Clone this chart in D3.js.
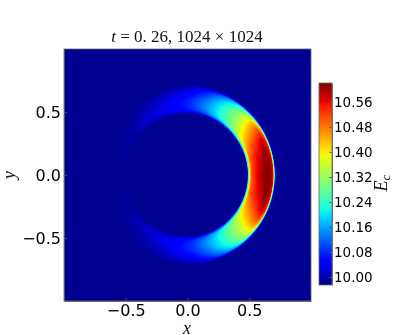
<!DOCTYPE html>
<html>
<head>
<meta charset="utf-8">
<script src="https://d3js.org/d3.v7.min.js"></script>
<style>
body { margin:0; background:#fff; }
#wrap { position:relative; width:399px; height:335px; overflow:hidden; }
canvas, svg { position:absolute; left:0; top:0; }
.axis path, .axis line { stroke:#555; stroke-width:0.8; }
.axis text { font-family:"DejaVu Sans"; fill:#000; }
.math { font-family:"Liberation Serif"; fill:#111; }
</style>
</head>
<body>
<div id="wrap"><canvas id="heat" width="399" height="335"></canvas><svg id="chart" width="399" height="335"></svg></div>
<script>
var xTicks = [-0.5, 0, 0.5]
var yTicks = [-0.5, 0, 0.5]
var barTicks = [10.00, 10.08, 10.16, 10.24, 10.32, 10.40, 10.48, 10.56]
var barDomain = [9.975, 10.62]
var background = 9.985

// polar stations around the origin (lower half mirrors upper)
var radii = [0.484, 0.492, 0.505, 0.52, 0.55, 0.58, 0.61, 0.64, 0.67, 0.692, 0.702, 0.71, 0.72]
var angles = [0, 15, 25, 35, 45, 55, 65, 75, 85, 95, 110, 125, 140, 160, 180]
var e0   = [9.985, 10.22, 10.42, 10.51, 10.55, 10.58, 10.60, 10.62, 10.62, 10.58, 10.30, 10.03, 9.985]
var e15  = [9.985, 10.20, 10.40, 10.49, 10.53, 10.56, 10.58, 10.61, 10.61, 10.56, 10.28, 10.03, 9.985]
var e25  = [9.985, 10.18, 10.36, 10.44, 10.48, 10.51, 10.53, 10.56, 10.58, 10.52, 10.24, 10.02, 9.985]
var e35  = [9.985, 10.15, 10.31, 10.38, 10.41, 10.43, 10.45, 10.47, 10.48, 10.41, 10.18, 10.02, 9.985]
var e45  = [9.985, 10.12, 10.25, 10.30, 10.33, 10.34, 10.35, 10.35, 10.34, 10.28, 10.13, 10.01, 9.985]
var e55  = [9.985, 10.08, 10.19, 10.24, 10.26, 10.27, 10.27, 10.26, 10.23, 10.18, 10.09, 10.00, 9.985]
var e65  = [9.985, 10.05, 10.14, 10.18, 10.20, 10.20, 10.20, 10.18, 10.15, 10.10, 10.05, 10.00, 9.985]
var e75  = [9.985, 10.03, 10.09, 10.12, 10.14, 10.14, 10.13, 10.11, 10.08, 10.05, 10.02, 9.99, 9.985]
var e85  = [9.985, 10.01, 10.06, 10.08, 10.09, 10.09, 10.08, 10.06, 10.04, 10.02, 10.00, 9.99, 9.985]
var e95  = [9.985, 10.00, 10.04, 10.05, 10.06, 10.06, 10.05, 10.04, 10.02, 10.00, 9.99, 9.985, 9.985]
var e110 = [9.985, 9.99, 10.02, 10.03, 10.04, 10.03, 10.02, 10.01, 10.00, 9.99, 9.985, 9.985, 9.985]
var e125 = [9.985, 9.985, 10.005, 10.015, 10.02, 10.01, 10.00, 9.995, 9.99, 9.985, 9.985, 9.985, 9.985]
var e140 = [9.985, 9.985, 9.99, 10.00, 10.00, 9.995, 9.99, 9.985, 9.985, 9.985, 9.985, 9.985, 9.985]
var e160 = [9.985, 9.985, 9.985, 9.99, 9.99, 9.985, 9.985, 9.985, 9.985, 9.985, 9.985, 9.985, 9.985]
var e180 = [9.985, 9.985, 9.985, 9.985, 9.985, 9.985, 9.985, 9.985, 9.985, 9.985, 9.985, 9.985, 9.985]
var rows = [e0, e15, e25, e35, e45, e55, e65, e75, e85, e95, e110, e125, e140, e160, e180]

// jet colormap stops
var jetR = [[0, 0.35, 0.66, 0.89, 1], [0, 0, 1, 1, 0.5]]
var jetG = [[0, 0.125, 0.375, 0.64, 0.91, 1], [0, 0, 1, 1, 0, 0]]
var jetB = [[0, 0.11, 0.34, 0.65, 1], [0.5, 1, 1, 0, 0]]

var plot = {left:64, right:311, top:49, bottom:301}
var bar = {left:319, right:332, top:83, bottom:285}

var xScale = d3.scaleLinear().domain([-1, 1]).range([plot.left, plot.right])
var yScale = d3.scaleLinear().domain([-1, 1]).range([plot.bottom, plot.top])
var barScale = d3.scaleLinear().domain(barDomain).range([bar.bottom, bar.top])

var norm = d3.scaleLinear().domain(barDomain).range([0, 1]).clamp(true)
var chR = d3.scaleLinear().domain(jetR[0]).range(jetR[1])
var chG = d3.scaleLinear().domain(jetG[0]).range(jetG[1])
var chB = d3.scaleLinear().domain(jetB[0]).range(jetB[1])
var jet = function(v) {
    var t = norm(v)
    return [chR(t) * 255, chG(t) * 255, chB(t) * 255]
}

// one scale per angle row, so the raster shades between stations like the original
var rowScales = rows.map(function(r) {
    return d3.scaleLinear().domain(radii).range(r).clamp(true)
})
var angleIndex = d3.scaleLinear().domain(angles).range(d3.range(angles.length)).clamp(true)

var valueAt = function(x, y) {
    var r = Math.sqrt(x * x + y * y)
    if (r < radii[0] || r > radii[radii.length - 1]) return background
    var a = Math.abs(Math.atan2(y, x)) * 180 / Math.PI
    var idx = angleIndex(a)
    var i0 = Math.floor(idx)
    var i1 = Math.min(i0 + 1, angles.length - 1)
    return d3.interpolateNumber(rowScales[i0](r), rowScales[i1](r))(idx - i0)
}

var ctx = document.getElementById("heat").getContext("2d")
var img = ctx.createImageData(399, 335)
var setPixel = function(px, py, c) {
    var k = (py * 399 + px) * 4
    img.data[k] = c[0]; img.data[k + 1] = c[1]; img.data[k + 2] = c[2]; img.data[k + 3] = 255
}
for (var py = plot.top; py < plot.bottom; py++) {
    for (var px = plot.left; px < plot.right; px++) {
        setPixel(px, py, jet(valueAt(xScale.invert(px + 0.5), yScale.invert(py + 0.5))))
    }
}
for (var by = bar.top; by < bar.bottom; by++) {
    for (var bx = bar.left; bx < bar.right; bx++) {
        setPixel(bx, by, jet(barScale.invert(by + 0.5)))
    }
}
ctx.putImageData(img, 0, 0)

var svg = d3.select("#chart")
var fmt = function(d) { return d3.format(".1f")(d).replace("-", "\u2212") }

var gx = svg.append("g").attr("class", "axis")
    .attr("transform", "translate(0," + plot.bottom + ")")
    .call(d3.axisBottom(xScale).tickValues(xTicks).tickFormat(fmt).tickSizeInner(-3).tickSizeOuter(0).tickPadding(4))
gx.selectAll("text").style("font-size", "16px")

var gy = svg.append("g").attr("class", "axis")
    .attr("transform", "translate(" + plot.left + ",0)")
    .call(d3.axisLeft(yScale).tickValues(yTicks).tickFormat(fmt).tickSizeInner(-3).tickSizeOuter(0).tickPadding(3))
gy.selectAll("text").style("font-size", "16px")

var gb = svg.append("g").attr("class", "axis")
    .attr("transform", "translate(" + bar.right + ",0)")
    .call(d3.axisRight(barScale).tickValues(barTicks).tickFormat(d3.format(".2f")).tickSizeInner(-3).tickSizeOuter(0).tickPadding(2))
gb.selectAll("text").style("font-size", "13.5px")

svg.append("rect")
    .attr("x", plot.left).attr("y", plot.top)
    .attr("width", plot.right - plot.left).attr("height", plot.bottom - plot.top)
    .attr("fill", "none").attr("stroke", "#666").attr("stroke-width", 0.8)
svg.append("rect")
    .attr("x", bar.left).attr("y", bar.top)
    .attr("width", bar.right - bar.left).attr("height", bar.bottom - bar.top)
    .attr("fill", "none").attr("stroke", "#666").attr("stroke-width", 0.8)

var title = svg.append("text").attr("class", "math")
    .attr("x", 187).attr("y", 42).attr("text-anchor", "middle").style("font-size", "17px")
title.append("tspan").style("font-style", "italic").text("t")
title.append("tspan").text(" = 0. 26, 1024 \u00d7 1024")

svg.append("text").attr("class", "math").attr("x", 187).attr("y", 334)
    .attr("text-anchor", "middle").style("font-size", "18px").style("font-style", "italic").text("x")
svg.append("text").attr("class", "math")
    .attr("transform", "translate(15,175) rotate(-90)")
    .attr("text-anchor", "middle").style("font-size", "18px").style("font-style", "italic").text("y")

var eLabel = svg.append("text").attr("class", "math")
    .attr("transform", "translate(387,183) rotate(-90)")
    .attr("text-anchor", "middle").style("font-size", "18px").style("font-style", "italic")
eLabel.append("tspan").text("E")
eLabel.append("tspan").attr("dy", 3).style("font-size", "13px").text("c")
</script>
</body>
</html>
